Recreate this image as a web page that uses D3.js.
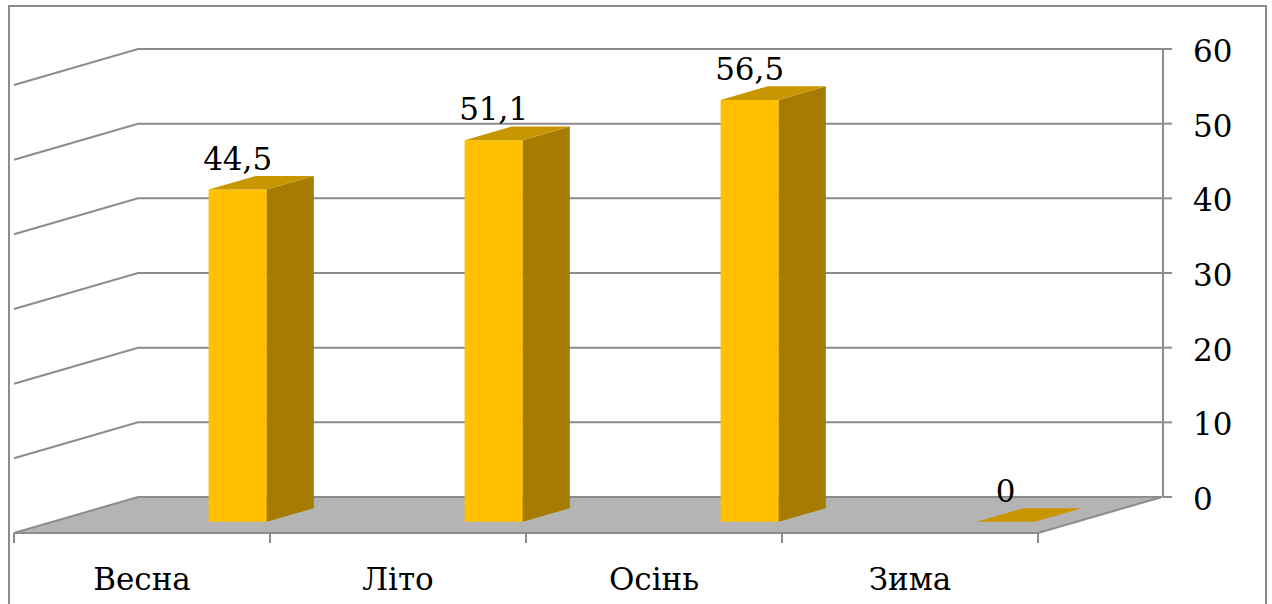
<!DOCTYPE html>
<html>
<head>
<meta charset="utf-8">
<script src="https://cdn.jsdelivr.net/npm/d3@7"></script>
<style>
  body { margin: 0; background: #fff; }
</style>
</head>
<body>
<div id="chart"></div>
<script>
// data
var seasons = ["Весна", "Літо", "Осінь", "Зима"];
var values = [44.5, 51.1, 56.5, 0];
var valueLabels = ["44,5", "51,1", "56,5", "0"];
var yTicks = [0, 10, 20, 30, 40, 50, 60];

var W = 1272, H = 604;
var depthX = 124, depthY = 36;   // floor depth offset (front -> back)
var gridColor = "#8c8c8c";
var serif = "'DejaVu Serif', serif";

var svg = d3.select("#chart").append("svg")
    .attr("width", W)
    .attr("height", H)
    .attr("font-family", serif);

svg.append("rect")
    .attr("x", 9).attr("y", 6)
    .attr("width", 1257).attr("height", 620)
    .attr("fill", "#fff")
    .attr("stroke", gridColor)
    .attr("stroke-width", 2);

// back wall value scale, category band scale along the front floor edge
var y = d3.scaleLinear().domain([0, 60]).range([497, 49]);
var x = d3.scaleBand().domain(seasons).range([14, 1038]);
var bw = x.bandwidth();

// project a point: front-edge x, depth t (0 front .. 1 back), value v
function proj(xw, t, v) {
    return [xw + t * depthX, y(v) + (1 - t) * depthY];
}

function pts(arr) { return arr.map(function (p) { return p.join(","); }).join(" "); }

// side + back wall gridlines
yTicks.filter(function (d) { return d > 0; }).forEach(function (v) {
    svg.append("polyline")
        .attr("points", pts([proj(14, 0, v), proj(14, 1, v), [1163, y(v)]]))
        .attr("fill", "none")
        .attr("stroke", gridColor)
        .attr("stroke-width", 2);
});

// right vertical edge of back wall + value axis ticks
svg.append("line")
    .attr("x1", 1163).attr("x2", 1163)
    .attr("y1", y(60)).attr("y2", y(0))
    .attr("stroke", gridColor).attr("stroke-width", 2);

svg.selectAll("line.ytick")
    .data(yTicks)
    .enter().append("line")
    .attr("class", "ytick")
    .attr("x1", 1163).attr("x2", 1172)
    .attr("y1", function (d) { return y(d); })
    .attr("y2", function (d) { return y(d); })
    .attr("stroke", gridColor).attr("stroke-width", 2);

svg.selectAll("text.ylabel")
    .data(yTicks)
    .enter().append("text")
    .attr("class", "ylabel")
    .attr("x", 1193)
    .attr("y", function (d) { return y(d) + 13; })
    .attr("font-size", 31)
    .text(function (d) { return d; });

// floor
svg.append("polygon")
    .attr("points", pts([proj(14, 0, 0), proj(14, 1, 0), proj(1038, 1, 0), proj(1038, 0, 0)]))
    .attr("fill", "#b4b4b4")
    .attr("stroke", gridColor)
    .attr("stroke-width", 2);

// category ticks along front edge
var tickXs = seasons.map(function (d) { return x(d); }).concat([1038]);
svg.selectAll("line.xtick")
    .data(tickXs)
    .enter().append("line")
    .attr("class", "xtick")
    .attr("x1", function (d) { return d; })
    .attr("x2", function (d) { return d; })
    .attr("y1", 533).attr("y2", 543)
    .attr("stroke", gridColor).attr("stroke-width", 2);

// bars (front at depth tf, back at depth tb)
var tf = 0.31, tb = 0.69;
var barOff = 0.61, barW = 0.227;

var bars = svg.selectAll("g.bar")
    .data(seasons.map(function (s, i) { return {name: s, value: values[i], label: valueLabels[i]}; }))
    .enter().append("g")
    .attr("class", "bar");

bars.each(function (d) {
    var g = d3.select(this);
    var x0 = x(d.name) + bw * barOff, x1 = x0 + bw * barW;
    var a = proj(x0, tf, 0), b = proj(x1, tf, 0);
    var c = proj(x1, tf, d.value), e = proj(x0, tf, d.value);
    var bb = proj(x1, tb, 0), bc = proj(x1, tb, d.value), be = proj(x0, tb, d.value);
    if (d.value > 0) {
        g.append("polygon").attr("points", pts([a, b, c, e])).attr("fill", "#ffc000");
        g.append("polygon").attr("points", pts([b, bb, bc, c])).attr("fill", "#a57c00");
    }
    g.append("polygon").attr("points", pts([e, c, bc, be])).attr("fill", "#c89600");
    g.append("text")
        .attr("x", (x0 + x1) / 2 + tf * depthX)
        .attr("y", e[1] - 20)
        .attr("text-anchor", "middle")
        .attr("font-size", 31)
        .text(d.label);
});

// category labels
svg.selectAll("text.xlabel")
    .data(seasons)
    .enter().append("text")
    .attr("class", "xlabel")
    .attr("x", function (d) { return x(d) + bw / 2; })
    .attr("y", 590)
    .attr("text-anchor", "middle")
    .attr("font-size", 31)
    .text(function (d) { return d; });
</script>
</body>
</html>
